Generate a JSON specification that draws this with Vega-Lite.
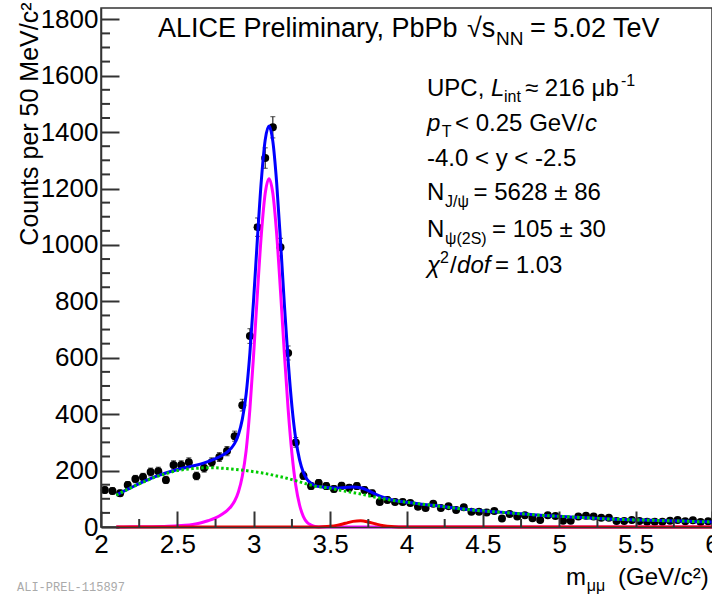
{
  "$schema": "https://vega.github.io/schema/vega-lite/v6.json",
  "width": 611,
  "height": 519,
  "autosize": {"type": "none"},
  "padding": {"left": 101, "top": 8, "right": 0, "bottom": 68},
  "background": "white",
  "config": {
    "view": {"stroke": "#333333", "strokeWidth": 1.5},
    "font": "Liberation Sans"
  },
  "datasets": {
    "pts": [
      {"m":2.025,"v":131,"e":11.4},{"m":2.075,"v":128,"e":11.3},{"m":2.125,"v":120,"e":11},{"m":2.175,"v":149,"e":12.2},
      {"m":2.225,"v":170,"e":13},{"m":2.275,"v":177,"e":13.3},{"m":2.325,"v":195,"e":14},{"m":2.375,"v":198,"e":14.1},
      {"m":2.425,"v":167,"e":12.9},{"m":2.475,"v":220,"e":14.8},{"m":2.525,"v":220,"e":14.8},{"m":2.575,"v":230,"e":15.2},
      {"m":2.625,"v":181,"e":13.5},{"m":2.675,"v":209,"e":14.5},{"m":2.725,"v":230,"e":15.2},{"m":2.775,"v":248,"e":15.7},
      {"m":2.825,"v":269,"e":16.4},{"m":2.875,"v":322,"e":17.9},{"m":2.925,"v":432,"e":20.8},{"m":2.975,"v":677,"e":26},
      {"m":3.025,"v":1063,"e":32.6},{"m":3.075,"v":1308,"e":36.2},{"m":3.125,"v":1417,"e":37.6},{"m":3.175,"v":992,"e":31.5},
      {"m":3.225,"v":617,"e":24.8},{"m":3.275,"v":300,"e":17.3},{"m":3.325,"v":182,"e":13.5},{"m":3.375,"v":145,"e":12},
      {"m":3.425,"v":156,"e":12.5},{"m":3.475,"v":145,"e":12},{"m":3.525,"v":135,"e":11.6},{"m":3.575,"v":146,"e":12.1},
      {"m":3.625,"v":139,"e":11.8},{"m":3.675,"v":145,"e":12},{"m":3.725,"v":131,"e":11.4},{"m":3.775,"v":120,"e":11},
      {"m":3.825,"v":89,"e":9.4},{"m":3.875,"v":96,"e":9.8},{"m":3.925,"v":89,"e":9.4},{"m":3.975,"v":89,"e":9.4},
      {"m":4.025,"v":85,"e":9.2},{"m":4.075,"v":72,"e":8.5},{"m":4.125,"v":67,"e":8.2},{"m":4.175,"v":82,"e":9.1},
      {"m":4.225,"v":67,"e":8.2},{"m":4.275,"v":74,"e":8.6},{"m":4.325,"v":60,"e":7.7},{"m":4.375,"v":70,"e":8.4},
      {"m":4.425,"v":54,"e":7.3},{"m":4.475,"v":54,"e":7.3},{"m":4.525,"v":51,"e":7.1},{"m":4.575,"v":57,"e":7.5},
      {"m":4.625,"v":30,"e":5.5},{"m":4.675,"v":46,"e":6.8},{"m":4.725,"v":37,"e":6.1},{"m":4.775,"v":42,"e":6.5},
      {"m":4.825,"v":31,"e":5.6},{"m":4.875,"v":25,"e":5},{"m":4.925,"v":42,"e":6.5},{"m":4.975,"v":39,"e":6.2},
      {"m":5.025,"v":22,"e":4.7},{"m":5.075,"v":22,"e":4.7},{"m":5.125,"v":37,"e":6.1},{"m":5.175,"v":40,"e":6.3},
      {"m":5.225,"v":37,"e":6.1},{"m":5.275,"v":33,"e":5.7},{"m":5.325,"v":33,"e":5.7},{"m":5.375,"v":21,"e":4.6},
      {"m":5.425,"v":21,"e":4.6},{"m":5.475,"v":25,"e":5},{"m":5.525,"v":21,"e":4.6},{"m":5.575,"v":19,"e":4.4},
      {"m":5.625,"v":19,"e":4.4},{"m":5.675,"v":19,"e":4.4},{"m":5.725,"v":22,"e":4.7},{"m":5.775,"v":25,"e":5},
      {"m":5.825,"v":20,"e":4.5},{"m":5.875,"v":24,"e":4.9},{"m":5.925,"v":18,"e":4.2},{"m":5.975,"v":20,"e":4.5}
    ],
    "cur": [
      {"c":"bg","m":2.1,"v":113},{"c":"bg","m":2.15,"v":127},{"c":"bg","m":2.2,"v":140},{"c":"bg","m":2.25,"v":153},
      {"c":"bg","m":2.3,"v":165},{"c":"bg","m":2.35,"v":176},{"c":"bg","m":2.4,"v":185},{"c":"bg","m":2.45,"v":193},
      {"c":"bg","m":2.5,"v":200},{"c":"bg","m":2.55,"v":204},{"c":"bg","m":2.6,"v":207},{"c":"bg","m":2.65,"v":209},
      {"c":"bg","m":2.7,"v":210},{"c":"bg","m":2.75,"v":210},{"c":"bg","m":2.8,"v":208},{"c":"bg","m":2.85,"v":206},
      {"c":"bg","m":2.9,"v":203},{"c":"bg","m":2.95,"v":200},{"c":"bg","m":3.0,"v":196},{"c":"bg","m":3.05,"v":192},
      {"c":"bg","m":3.1,"v":187},{"c":"bg","m":3.15,"v":181},{"c":"bg","m":3.2,"v":175},{"c":"bg","m":3.25,"v":168},
      {"c":"bg","m":3.3,"v":160},{"c":"bg","m":3.35,"v":152},{"c":"bg","m":3.4,"v":145},{"c":"bg","m":3.45,"v":141},
      {"c":"bg","m":3.5,"v":137},{"c":"bg","m":3.55,"v":132},{"c":"bg","m":3.6,"v":127},{"c":"bg","m":3.65,"v":122},
      {"c":"bg","m":3.7,"v":117},{"c":"bg","m":3.75,"v":111},{"c":"bg","m":3.8,"v":105},{"c":"bg","m":3.85,"v":100},
      {"c":"bg","m":3.9,"v":95},{"c":"bg","m":3.95,"v":91},{"c":"bg","m":4.0,"v":88},{"c":"bg","m":4.1,"v":81},
      {"c":"bg","m":4.2,"v":75},{"c":"bg","m":4.3,"v":68},{"c":"bg","m":4.4,"v":62},{"c":"bg","m":4.5,"v":57},
      {"c":"bg","m":4.6,"v":53},{"c":"bg","m":4.7,"v":49},{"c":"bg","m":4.8,"v":45},{"c":"bg","m":4.9,"v":41},
      {"c":"bg","m":5.0,"v":38},{"c":"bg","m":5.1,"v":35},{"c":"bg","m":5.2,"v":32},{"c":"bg","m":5.3,"v":29},
      {"c":"bg","m":5.4,"v":27},{"c":"bg","m":5.5,"v":25},{"c":"bg","m":5.6,"v":24},{"c":"bg","m":5.7,"v":22},
      {"c":"bg","m":5.8,"v":21},{"c":"bg","m":5.9,"v":19},{"c":"bg","m":6.0,"v":18},

      {"c":"tot","m":2.1,"v":113},{"c":"tot","m":2.15,"v":127},{"c":"tot","m":2.2,"v":140.5},{"c":"tot","m":2.25,"v":153.7},
      {"c":"tot","m":2.3,"v":166},{"c":"tot","m":2.35,"v":177.5},{"c":"tot","m":2.4,"v":187},{"c":"tot","m":2.45,"v":196},
      {"c":"tot","m":2.5,"v":204},{"c":"tot","m":2.55,"v":210},{"c":"tot","m":2.6,"v":216},{"c":"tot","m":2.65,"v":223},
      {"c":"tot","m":2.7,"v":232},{"c":"tot","m":2.75,"v":242},{"c":"tot","m":2.8,"v":256},{"c":"tot","m":2.825,"v":265},
      {"c":"tot","m":2.85,"v":278},{"c":"tot","m":2.875,"v":296.5},{"c":"tot","m":2.9,"v":328},{"c":"tot","m":2.925,"v":381.5},
      {"c":"tot","m":2.95,"v":470},{"c":"tot","m":2.975,"v":618},{"c":"tot","m":3.0,"v":814},{"c":"tot","m":3.025,"v":1031},
      {"c":"tot","m":3.05,"v":1231},{"c":"tot","m":3.075,"v":1372.5},{"c":"tot","m":3.1,"v":1422},{"c":"tot","m":3.125,"v":1367},
      {"c":"tot","m":3.15,"v":1220},{"c":"tot","m":3.175,"v":1015},{"c":"tot","m":3.2,"v":793},{"c":"tot","m":3.225,"v":590.5},
      {"c":"tot","m":3.25,"v":428},{"c":"tot","m":3.275,"v":312},{"c":"tot","m":3.3,"v":238},{"c":"tot","m":3.325,"v":193},
      {"c":"tot","m":3.35,"v":168},{"c":"tot","m":3.375,"v":155.5},{"c":"tot","m":3.4,"v":147},{"c":"tot","m":3.45,"v":141.6},
      {"c":"tot","m":3.5,"v":139.4},{"c":"tot","m":3.55,"v":138.6},{"c":"tot","m":3.6,"v":140.3},{"c":"tot","m":3.65,"v":141.9},
      {"c":"tot","m":3.7,"v":138.9},{"c":"tot","m":3.75,"v":128.6},{"c":"tot","m":3.8,"v":115.4},{"c":"tot","m":3.85,"v":104.5},
      {"c":"tot","m":3.9,"v":96.4},{"c":"tot","m":3.95,"v":91.3},{"c":"tot","m":4.0,"v":88},{"c":"tot","m":4.1,"v":81},
      {"c":"tot","m":4.2,"v":75},{"c":"tot","m":4.3,"v":68},{"c":"tot","m":4.4,"v":62},{"c":"tot","m":4.5,"v":57},
      {"c":"tot","m":4.6,"v":53},{"c":"tot","m":4.7,"v":49},{"c":"tot","m":4.8,"v":45},{"c":"tot","m":4.9,"v":41},
      {"c":"tot","m":5.0,"v":38},{"c":"tot","m":5.1,"v":35},{"c":"tot","m":5.2,"v":32},{"c":"tot","m":5.3,"v":29},
      {"c":"tot","m":5.4,"v":27},{"c":"tot","m":5.5,"v":25},{"c":"tot","m":5.6,"v":24},{"c":"tot","m":5.7,"v":22},
      {"c":"tot","m":5.8,"v":21},{"c":"tot","m":5.9,"v":19},{"c":"tot","m":6.0,"v":18},

      {"c":"jp","m":2.1,"v":0},{"c":"jp","m":2.2,"v":0.5},{"c":"jp","m":2.3,"v":1},{"c":"jp","m":2.4,"v":2},
      {"c":"jp","m":2.5,"v":4},{"c":"jp","m":2.55,"v":6},{"c":"jp","m":2.6,"v":9},{"c":"jp","m":2.65,"v":14},
      {"c":"jp","m":2.7,"v":22},{"c":"jp","m":2.75,"v":32},{"c":"jp","m":2.8,"v":48},{"c":"jp","m":2.825,"v":58},
      {"c":"jp","m":2.85,"v":72},{"c":"jp","m":2.875,"v":92},{"c":"jp","m":2.9,"v":125},{"c":"jp","m":2.925,"v":180},
      {"c":"jp","m":2.95,"v":270},{"c":"jp","m":2.975,"v":420},{"c":"jp","m":3.0,"v":618},{"c":"jp","m":3.025,"v":837},
      {"c":"jp","m":3.05,"v":1039},{"c":"jp","m":3.075,"v":1183},{"c":"jp","m":3.1,"v":1235},{"c":"jp","m":3.125,"v":1183},
      {"c":"jp","m":3.15,"v":1039},{"c":"jp","m":3.175,"v":837},{"c":"jp","m":3.2,"v":618},{"c":"jp","m":3.225,"v":419},
      {"c":"jp","m":3.25,"v":260},{"c":"jp","m":3.275,"v":148},{"c":"jp","m":3.3,"v":78},{"c":"jp","m":3.325,"v":37},
      {"c":"jp","m":3.35,"v":16},{"c":"jp","m":3.375,"v":7},{"c":"jp","m":3.4,"v":2},{"c":"jp","m":3.45,"v":0},
      {"c":"jp","m":3.5,"v":0},{"c":"jp","m":6.0,"v":0},

      {"c":"ps","m":2.1,"v":0},{"c":"ps","m":3.4,"v":0},{"c":"ps","m":3.45,"v":0.6},{"c":"ps","m":3.5,"v":2.4},
      {"c":"ps","m":3.55,"v":6.6},{"c":"ps","m":3.6,"v":13.3},{"c":"ps","m":3.65,"v":19.9},{"c":"ps","m":3.7,"v":21.9},
      {"c":"ps","m":3.75,"v":17.6},{"c":"ps","m":3.8,"v":10.4},{"c":"ps","m":3.85,"v":4.5},{"c":"ps","m":3.9,"v":1.4},
      {"c":"ps","m":3.95,"v":0.3},{"c":"ps","m":4.0,"v":0},{"c":"ps","m":6.0,"v":0}
    ],
    "xt": [
      {"m":2.25},{"m":2.75},{"m":3.25},{"m":3.75},{"m":4.25},{"m":4.75},{"m":5.25},{"m":5.75}
    ],
    "yt": [
      {"v":50},{"v":100},{"v":150},{"v":250},{"v":300},{"v":350},{"v":450},{"v":500},{"v":550},{"v":650},{"v":700},{"v":750},
      {"v":850},{"v":900},{"v":950},{"v":1050},{"v":1100},{"v":1150},{"v":1250},{"v":1300},{"v":1350},{"v":1450},{"v":1500},
      {"v":1550},{"v":1650},{"v":1700},{"v":1750}
    ],
    "lab": [
      {"k":"T","m":2.373,"v":1737,"t":"ALICE Preliminary, PbPb"},
      {"k":"T","m":4.396,"v":1737,"t":"√s"},
      {"k":"Ts","m":4.586,"v":1709,"t":"NN"},
      {"k":"T","m":4.809,"v":1737,"t":"= 5.02 TeV"},

      {"k":"n","m":4.134,"v":1528,"t":"UPC,"},
      {"k":"i","m":4.553,"v":1528,"t":"L"},
      {"k":"s","m":4.638,"v":1507,"t":"int"},
      {"k":"n","m":4.776,"v":1528,"t":"≈ 216 μb"},
      {"k":"s","m":5.404,"v":1563,"t":"-1"},

      {"k":"i","m":4.134,"v":1404,"t":"p"},
      {"k":"s","m":4.23,"v":1383,"t":"T"},
      {"k":"n","m":4.318,"v":1404,"t":"< 0.25 GeV/"},
      {"k":"i","m":5.169,"v":1404,"t":"c"},

      {"k":"n","m":4.134,"v":1280,"t":"-4.0 < y < -2.5"},

      {"k":"n","m":4.134,"v":1159,"t":"N"},
      {"k":"s","m":4.252,"v":1135,"t":"J/ψ"},
      {"k":"n","m":4.439,"v":1159,"t":"= 5628 ± 86"},

      {"k":"n","m":4.134,"v":1028,"t":"N"},
      {"k":"s","m":4.252,"v":1003,"t":"ψ(2S)"},
      {"k":"n","m":4.56,"v":1028,"t":"= 105 ± 30"},

      {"k":"i","m":4.134,"v":900,"t":"χ"},
      {"k":"s","m":4.219,"v":936,"t":"2"},
      {"k":"n","m":4.285,"v":900,"t":"/"},
      {"k":"i","m":4.331,"v":900,"t":"dof"},
      {"k":"n","m":4.579,"v":900,"t":"= 1.03"},

      {"k":"n","m":5.044,"v":-206,"t":"m"},
      {"k":"s","m":5.18,"v":-227,"t":"μμ"},
      {"k":"n","m":5.385,"v":-206,"t":"(GeV/c²)"},

      {"k":"w","m":1.45,"v":-227,"t":"ALI-PREL-115897"}
    ]
  },
  "layer": [
    {
      "data": {"name": "pts"},
      "mark": {"type": "errorbar", "ticks": {"size": 5, "color": "black"}, "color": "black", "thickness": 1},
      "encoding": {
        "x": {"field": "m", "type": "quantitative", "scale": {"domain": [2, 6], "nice": false, "zero": false},
          "axis": {"orient": "bottom", "values": [2, 2.5, 3, 3.5, 4, 4.5, 5, 5.5, 6], "format": "~g", "grid": false,
            "ticks": true, "tickSize": -16, "tickColor": "#333333", "tickWidth": 2,
            "domain": true, "domainColor": "#333333", "domainWidth": 1.5, "labelFont": "Liberation Sans", "labelFontSize": 26,
            "labelColor": "black", "labelPadding": 20, "labelFlush": false, "labelOverlap": false, "title": null, "zindex": 1}},
        "y": {"field": "v", "type": "quantitative", "scale": {"domain": [0, 1840], "nice": false, "zero": false},
          "axis": {"orient": "left", "values": [0, 200, 400, 600, 800, 1000, 1200, 1400, 1600, 1800], "format": "d", "grid": false,
            "ticks": true, "tickSize": -18, "tickColor": "#333333", "tickWidth": 2,
            "domain": true, "domainColor": "#333333", "domainWidth": 1.5, "labelFont": "Liberation Sans", "labelFontSize": 26,
            "labelColor": "black", "labelPadding": 21, "labelFlush": false, "labelOverlap": false,
            "title": "Counts per 50 MeV/c²", "titleFont": "Liberation Sans", "titleFontSize": 25, "titleFontWeight": "normal",
            "titleColor": "black", "titleAngle": -90, "titleAlign": "right", "titleBaseline": "alphabetic", "titleX": -64, "titleY": -6, "zindex": 1}},
        "yError": {"field": "e"}
      }
    },
    {
      "data": {"name": "pts"},
      "mark": {"type": "circle", "color": "black", "opacity": 1, "size": 64},
      "encoding": {
        "x": {"field": "m", "type": "quantitative"},
        "y": {"field": "v", "type": "quantitative"}
      }
    },
    {
      "data": {"name": "cur"},
      "transform": [{"filter": "datum.c === 'tot'"}],
      "mark": {"type": "line", "color": "#0000ff", "strokeWidth": 3, "interpolate": "monotone"},
      "encoding": {
        "x": {"field": "m", "type": "quantitative"},
        "y": {"field": "v", "type": "quantitative"}
      }
    },
    {
      "data": {"name": "cur"},
      "transform": [{"filter": "datum.c === 'jp'"}],
      "mark": {"type": "line", "color": "#ff00ff", "strokeWidth": 3, "interpolate": "monotone"},
      "encoding": {
        "x": {"field": "m", "type": "quantitative"},
        "y": {"field": "v", "type": "quantitative"}
      }
    },
    {
      "data": {"name": "cur"},
      "transform": [{"filter": "datum.c === 'ps'"}],
      "mark": {"type": "line", "color": "#ee0000", "strokeWidth": 3, "interpolate": "monotone"},
      "encoding": {
        "x": {"field": "m", "type": "quantitative"},
        "y": {"field": "v", "type": "quantitative"}
      }
    },
    {
      "data": {"name": "cur"},
      "transform": [{"filter": "datum.c === 'bg'"}],
      "mark": {"type": "line", "color": "#00cc00", "strokeWidth": 3, "strokeDash": [2.5, 2.5], "interpolate": "monotone"},
      "encoding": {
        "x": {"field": "m", "type": "quantitative"},
        "y": {"field": "v", "type": "quantitative"}
      }
    },
    {
      "data": {"name": "xt"},
      "mark": {"type": "rule", "color": "#333333", "strokeWidth": 2, "opacity": 1},
      "encoding": {
        "x": {"field": "m", "type": "quantitative"},
        "y": {"datum": 0, "type": "quantitative"},
        "y2": {"datum": 28.4}
      }
    },
    {
      "data": {"name": "yt"},
      "mark": {"type": "rule", "color": "#333333", "strokeWidth": 2, "opacity": 1},
      "encoding": {
        "y": {"field": "v", "type": "quantitative"},
        "x": {"datum": 2, "type": "quantitative"},
        "x2": {"datum": 2.059}
      }
    },
    {
      "data": {"name": "lab"},
      "transform": [{"filter": "datum.k === 'T'"}],
      "mark": {"type": "text", "align": "left", "baseline": "alphabetic", "font": "Liberation Sans", "fontSize": 27, "color": "black"},
      "encoding": {
        "x": {"field": "m", "type": "quantitative"},
        "y": {"field": "v", "type": "quantitative"},
        "text": {"field": "t"}
      }
    },
    {
      "data": {"name": "lab"},
      "transform": [{"filter": "datum.k === 'Ts'"}],
      "mark": {"type": "text", "align": "left", "baseline": "alphabetic", "font": "Liberation Sans", "fontSize": 19, "color": "black"},
      "encoding": {
        "x": {"field": "m", "type": "quantitative"},
        "y": {"field": "v", "type": "quantitative"},
        "text": {"field": "t"}
      }
    },
    {
      "data": {"name": "lab"},
      "transform": [{"filter": "datum.k === 'n'"}],
      "mark": {"type": "text", "align": "left", "baseline": "alphabetic", "font": "Liberation Sans", "fontSize": 24, "color": "black"},
      "encoding": {
        "x": {"field": "m", "type": "quantitative"},
        "y": {"field": "v", "type": "quantitative"},
        "text": {"field": "t"}
      }
    },
    {
      "data": {"name": "lab"},
      "transform": [{"filter": "datum.k === 'i'"}],
      "mark": {"type": "text", "align": "left", "baseline": "alphabetic", "font": "Liberation Sans", "fontSize": 24, "fontStyle": "italic", "color": "black"},
      "encoding": {
        "x": {"field": "m", "type": "quantitative"},
        "y": {"field": "v", "type": "quantitative"},
        "text": {"field": "t"}
      }
    },
    {
      "data": {"name": "lab"},
      "transform": [{"filter": "datum.k === 's'"}],
      "mark": {"type": "text", "align": "left", "baseline": "alphabetic", "font": "Liberation Sans", "fontSize": 16, "color": "black"},
      "encoding": {
        "x": {"field": "m", "type": "quantitative"},
        "y": {"field": "v", "type": "quantitative"},
        "text": {"field": "t"}
      }
    },
    {
      "data": {"name": "lab"},
      "transform": [{"filter": "datum.k === 'w'"}],
      "mark": {"type": "text", "align": "left", "baseline": "alphabetic", "font": "Liberation Mono", "fontSize": 12, "color": "#aaaaaa"},
      "encoding": {
        "x": {"field": "m", "type": "quantitative"},
        "y": {"field": "v", "type": "quantitative"},
        "text": {"field": "t"}
      }
    }
  ]
}
